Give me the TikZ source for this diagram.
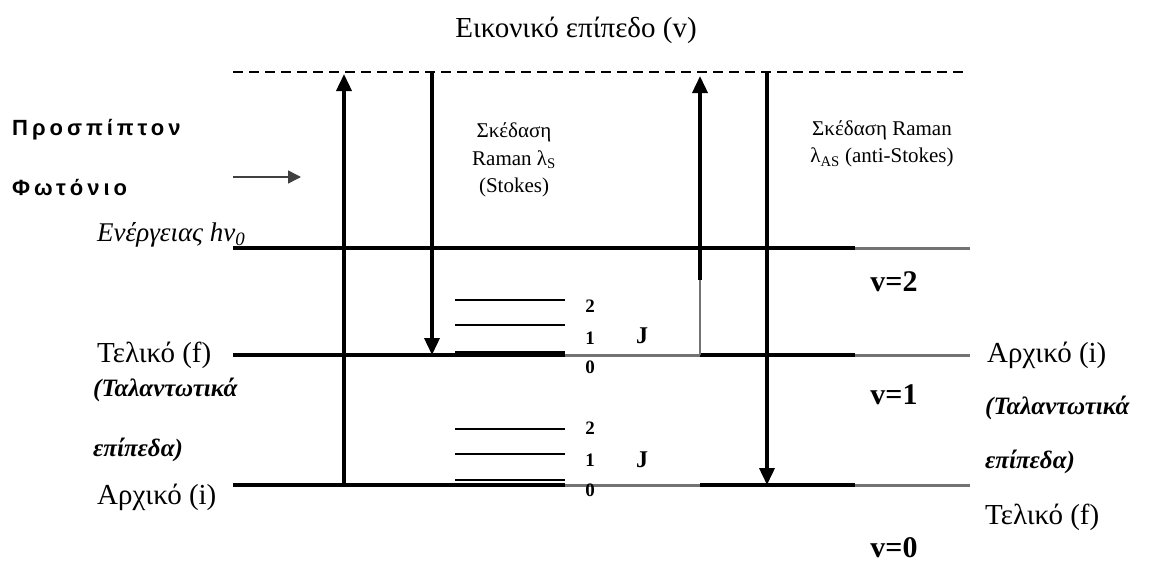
\documentclass[tikz,border=0pt]{standalone}
\usepackage{fontspec}
\setmainfont{Liberation Serif}
\newfontfamily\spsans[LetterSpace=18]{Liberation Sans}
\usetikzlibrary{arrows.meta}
\begin{document}
\begin{tikzpicture}[x=1pt,y=-1pt,
  lev/.style={line width=4pt},
  glev/.style={line width=3pt,draw=black!55},
  rotl/.style={line width=1.8pt},
  trans/.style={line width=3.6pt,-{Triangle[length=17pt,width=15pt]}},
  txt/.style={inner sep=0pt,font=\fontsize{29}{31}\selectfont},
  itxt/.style={inner sep=0pt,font=\fontsize{25}{27}\selectfont\bfseries\itshape},
  small/.style={inner sep=0pt,align=center,font=\fontsize{21}{27.5}\selectfont},
  vlab/.style={inner sep=0pt,font=\fontsize{30}{32}\selectfont\bfseries},
  jlab/.style={inner sep=0pt,font=\fontsize{19}{20}\selectfont\bfseries},
  sans/.style={inner sep=0pt,anchor=west,font=\fontsize{22}{24}\spsans\bfseries}
]
\useasboundingbox (0,0) rectangle (1153,570);
% coordinates
\coordinate (dL) at (233,72);   \coordinate (dR) at (965,72);
\coordinate (aL) at (233,248);  \coordinate (aM) at (855,248); \coordinate (aR) at (970,248);
\coordinate (fL) at (233,355);  \coordinate (fA) at (565,355); \coordinate (fB) at (700,355);
\coordinate (fC) at (855,355);  \coordinate (fR) at (970,355);
\coordinate (iL) at (233,485);  \coordinate (iA) at (565,485); \coordinate (iB) at (700,485);
\coordinate (iC) at (855,485);  \coordinate (iR) at (970,485);
% virtual level
\draw[line width=2pt,dash pattern=on 10pt off 6pt] (dL) -- (dR);
% vibrational levels
\draw[lev] (aL) -- (aM); \draw[glev] (aM) -- (aR);
\draw[lev] (fL) -- (fA); \draw[glev] (fA) -- (fB); \draw[lev] (fB) -- (fC); \draw[glev] (fC) -- (fR);
\draw[lev] (iL) -- (iA); \draw[glev] (iA) -- (iB); \draw[lev] (iB) -- (iC); \draw[glev] (iC) -- (iR);
% rotational levels
\coordinate (r2a) at (455,300); \coordinate (r2b) at (565,300);
\coordinate (r1a) at (455,325); \coordinate (r1b) at (565,325);
\coordinate (r0a) at (455,353); \coordinate (r0b) at (565,353);
\draw[rotl] (r2a) -- (r2b); \draw[rotl] (r1a) -- (r1b); \draw[line width=4.5pt] (r0a) -- (r0b);
\coordinate (s2a) at (455,429); \coordinate (s2b) at (565,429);
\coordinate (s1a) at (455,454); \coordinate (s1b) at (565,454);
\coordinate (s0a) at (455,480); \coordinate (s0b) at (565,480);
\draw[rotl] (s2a) -- (s2b); \draw[rotl] (s1a) -- (s1b); \draw[rotl] (s0a) -- (s0b);
% transitions
\coordinate (u1s) at (344,485); \coordinate (u1e) at (344,74);
\coordinate (d1s) at (432,72);  \coordinate (d1e) at (432,355);
\coordinate (u2s) at (700,355); \coordinate (u2m) at (700,280); \coordinate (u2e) at (700,76);
\coordinate (d2s) at (767,72);  \coordinate (d2e) at (767,485);
\draw[trans] (u1s) -- (u1e);
\draw[trans] (d1s) -- (d1e);
\draw[line width=2.5pt,draw=black!55] (u2s) -- (u2m);
\draw[trans] (u2m) -- (u2e);
\draw[trans] (d2s) -- (d2e);
% photon
\coordinate (ph1) at (233,177); \coordinate (ph2) at (301,177);
\draw[line width=1.5pt,draw=black!75,-{Triangle[length=13pt,width=13pt]}] (ph1) -- (ph2);
% texts
\node[txt] (title) at (576,30) {Εικονικό επίπεδο (v)};
\node[sans] (pr) at (12,130) {Προσπίπτον};
\node[sans] (fo) at (12,188) {Φωτόνιο};
\node[txt,anchor=west,font=\fontsize{27}{29}\selectfont\itshape] (en) at (97,235) {Ενέργειας hν\textsubscript{0}};
\node[small] (st) at (514,160) {Σκέδαση\\Raman λ\textsubscript{S}\\(Stokes)};
\node[small] (ast) at (882,144) {Σκέδαση Raman\\λ\textsubscript{AS} (anti-Stokes)};
\node[vlab] (v2) at (894,282) {v=2};
\node[vlab] (v1) at (894,395) {v=1};
\node[vlab] (v0) at (894,548) {v=0};
\node[txt,anchor=west] (tfL) at (97,355) {Τελικό (f)};
\node[itxt,anchor=west] (tl1) at (93,390) {(Ταλαντωτικά};
\node[itxt,anchor=west] (tl2) at (93,450) {επίπεδα)};
\node[txt,anchor=west] (aiL) at (97,497) {Αρχικό (i)};
\node[txt,anchor=west] (aiR) at (987,355) {Αρχικό (i)};
\node[itxt,anchor=west] (tr1) at (985,408) {(Ταλαντωτικά};
\node[itxt,anchor=west] (tr2) at (985,462) {επίπεδα)};
\node[txt,anchor=west] (tfR) at (985,517) {Τελικό (f)};
% J labels
\node[jlab] (j2u) at (590,306) {2};
\node[jlab] (j1u) at (590,338) {1};
\node[jlab] (j0u) at (590,367) {0};
\node[jlab,font=\fontsize{24}{26}\selectfont\bfseries] (Ju) at (642,336) {J};
\node[jlab] (j2l) at (590,428) {2};
\node[jlab] (j1l) at (590,460) {1};
\node[jlab] (j0l) at (590,490) {0};
\node[jlab,font=\fontsize{24}{26}\selectfont\bfseries] (Jl) at (642,460) {J};
\end{tikzpicture}
\end{document}
